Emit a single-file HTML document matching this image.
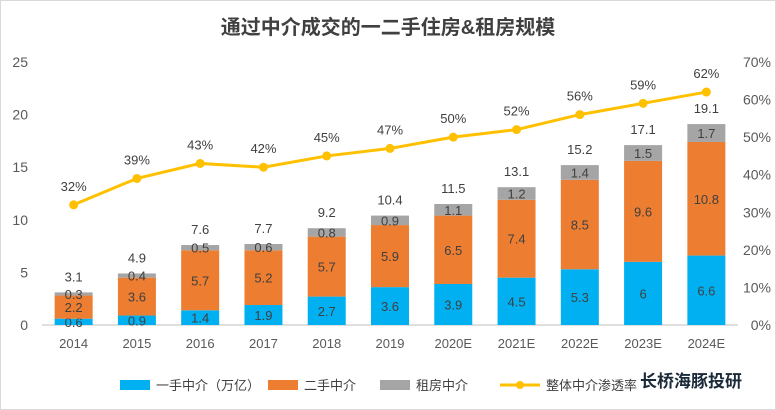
<!DOCTYPE html>
<html><head><meta charset="utf-8"><style>
body{margin:0;background:#fff;}
svg{display:block;font-family:"Liberation Sans","Noto Sans CJK SC",sans-serif;}
</style></head><body>
<svg id="chart" width="776" height="410" viewBox="0 0 776 410">
<rect x="0.5" y="0.5" width="775" height="409" fill="#fff" stroke="#d9d9d9"/>
<text x="388" y="34" text-anchor="middle" font-size="20" font-weight="bold" fill="#404040">通过中介成交的一二手住房&amp;租房规模</text>
<g id="axes"></g><g id="bars"></g><g id="line"></g>
<g font-size="13" fill="#404040">
<rect x="120" y="380" width="30" height="10" fill="#00B0F0"/>
<text x="156" y="390">一手中介（万亿）</text>
<rect x="268" y="380" width="30" height="10" fill="#ED7D31"/>
<text x="304" y="390">二手中介</text>
<rect x="380" y="380" width="30" height="10" fill="#A5A5A5"/>
<text x="416" y="390">租房中介</text>
<line x1="500" y1="385" x2="540" y2="385" stroke="#FFC000" stroke-width="3"/>
<circle cx="520" cy="385" r="4" fill="#FFC000"/>
<text x="546" y="390">整体中介渗透率</text>
</g>
<text x="640" y="387" font-size="17" font-weight="bold" fill="#1a2a3a">长桥海豚投研</text>
</svg>
<script>
const categories=["2014","2015","2016","2017","2018","2019","2020E","2021E","2022E","2023E","2024E"];
const newHome=[0.6,0.9,1.4,1.9,2.7,3.6,3.9,4.5,5.3,6,6.6];
const secondHand=[2.2,3.6,5.7,5.2,5.7,5.9,6.5,7.4,8.5,9.6,10.8];
const rental=[0.3,0.4,0.5,0.6,0.8,0.9,1.1,1.2,1.4,1.5,1.7];
const totals=[3.1,4.9,7.6,7.7,9.2,10.4,11.5,13.1,15.2,17.1,19.1];
const penetration=[32,39,43,42,45,47,50,52,56,59,62];
const leftTicks=[0,5,10,15,20,25];
const rightTicks=[0,10,20,30,40,50,60,70];
const NS="http://www.w3.org/2000/svg";
const x0=42,x1=738,yB=325,yT=62;
const band=(x1-x0)/categories.length;
const xC=i=>x0+band*(i+0.5);
const yL=v=>yB-(v/25)*(yB-yT);
const yR=v=>yB-(v/70)*(yB-yT);
function mk(tag,attrs,parent,txt){const e=document.createElementNS(NS,tag);for(const k in attrs)e.setAttribute(k,attrs[k]);if(txt!==undefined)e.textContent=txt;parent.appendChild(e);return e;}
const ax=document.getElementById('axes');
let base=mk('line',{x1:x0,x2:x1,y1:yB,y2:yB,stroke:'#bfbfbf'},ax);


leftTicks.forEach(t=>{const e=mk('text',{x:28,y:yL(t)+5,'text-anchor':'end','font-size':14,fill:'#595959'},ax,t);

});
rightTicks.forEach(t=>{const e=mk('text',{x:771,y:yR(t)+5,'text-anchor':'end','font-size':14,fill:'#595959'},ax,t+'%');

});
categories.forEach((c,i)=>{const e=mk('text',{x:xC(i),y:348,'text-anchor':'middle','font-size':13,fill:'#595959'},ax,c);

});
const bg=document.getElementById('bars');const bw=38;
categories.forEach((c,i)=>{
 const segs=[[newHome[i],'#00B0F0','new'],[secondHand[i],'#ED7D31','second'],[rental[i],'#A5A5A5','rent']];
 let acc=0;
 segs.forEach(([v,col,nm])=>{
  const r=mk('rect',{x:xC(i)-bw/2,y:yL(acc+v),width:bw,height:yL(acc)-yL(acc+v),fill:col},bg);
  
  
  const t=mk('text',{x:xC(i),y:(yL(acc)+yL(acc+v))/2+5,'text-anchor':'middle','font-size':13,fill:'#404040'},bg,v);
  
  
  acc+=v;});
 const t=mk('text',{x:xC(i),y:yL(acc)-11,'text-anchor':'middle','font-size':13,fill:'#404040'},bg,totals[i]);
 
 
});
const lg=document.getElementById('line');
const pl=mk('polyline',{points:penetration.map((v,i)=>xC(i)+','+yR(v)).join(' '),fill:'none',stroke:'#FFC000','stroke-width':3},lg);


penetration.forEach((v,i)=>{
 const c=mk('circle',{cx:xC(i),cy:yR(v),r:4.5,fill:'#FFC000'},lg);
 
 
 const t=mk('text',{x:xC(i),y:yR(v)-14,'text-anchor':'middle','font-size':13,fill:'#404040'},lg,v+'%');
 
 
});
</script>
</body></html>
